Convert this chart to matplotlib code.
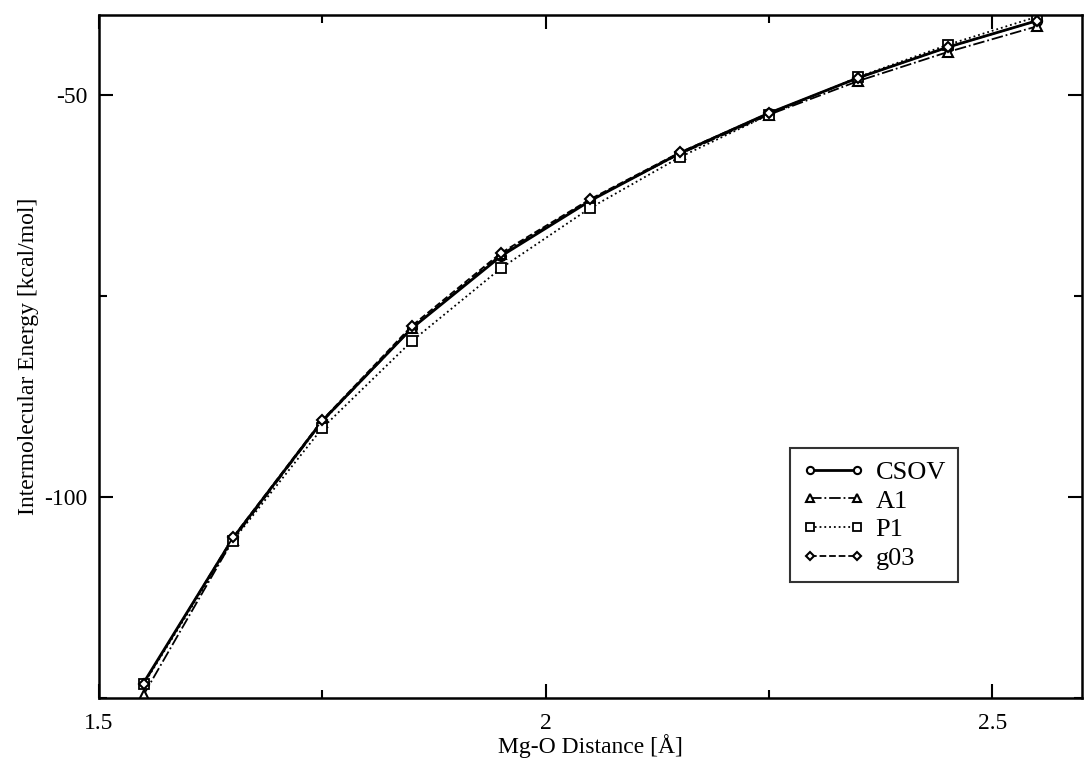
import matplotlib.pyplot as plt
from matplotlib.ticker import MultipleLocator

plt.rcParams['font.family'] = ['Liberation Serif', 'DejaVu Serif']
plt.rcParams['axes.unicode_minus'] = False

# Mg-O distance [A]
dist = [1.55, 1.65, 1.75, 1.85, 1.95, 2.05, 2.15, 2.25, 2.35, 2.45, 2.55]

# intermolecular energy [kcal/mol]
csov = [-123.1, -105.1, -90.5, -79.0, -70.0, -63.1, -57.2, -52.2, -47.8, -44.0, -40.7]
a1   = [-124.6, -105.3, -90.6, -79.0, -69.8, -63.0, -57.3, -52.4, -48.2, -44.6, -41.4]
p1   = [-123.3, -105.4, -91.4, -80.6, -71.5, -64.0, -57.7, -52.4, -47.7, -43.7, -40.2]
g03  = [-123.2, -105.0, -90.4, -78.7, -69.6, -62.9, -57.1, -52.2, -47.8, -44.0, -40.7]

fig = plt.figure(figsize=(10.84, 7.71), dpi=100)
ax = fig.add_axes([0.0913, 0.0947, 0.9067, 0.8858])

ax.plot(dist, csov, 'k-', marker='o', mfc='white', mec='black', ms=6.5, mew=1.5, lw=2, label='CSOV')
ax.plot(dist, a1, 'k-.', marker='^', mfc='white', mec='black', ms=6.5, mew=1.5, lw=1.3, label='A1')
ax.plot(dist, p1, 'k:', marker='s', mfc='white', mec='black', ms=6.5, mew=1.3, lw=1.3, label='P1')
ax.plot(dist, g03, 'k--', marker='D', mfc='white', mec='black', ms=5, mew=1.5, lw=1.3, label='g03')

ax.set_xlim(1.5, 2.6)
ax.set_ylim(-125, -40)
ax.xaxis.set_minor_locator(MultipleLocator(0.25))
ax.yaxis.set_major_locator(MultipleLocator(50))
ax.yaxis.set_minor_locator(MultipleLocator(25))
ax.set_xticks([1.5, 2.0, 2.5])
ax.set_xticklabels(['1.5', '2', '2.5'])

ax.tick_params(which='both', direction='in', top=True, right=True, labelsize=17, width=1.5)
ax.tick_params(which='major', length=10)
ax.tick_params(which='minor', length=6)
ax.tick_params(axis='x', which='major', pad=11)
ax.tick_params(axis='y', which='major', pad=8)
for s in ax.spines.values():
    s.set_linewidth(1.8)

ax.set_xlabel('Mg-O Distance [Å]', fontsize=17, labelpad=0)
ax.set_ylabel('Intermolecular Energy [kcal/mol]', fontsize=17, labelpad=4)

leg = ax.legend(loc='lower left', bbox_to_anchor=(0.703, 0.17), borderaxespad=0, fontsize=19,
                frameon=True, fancybox=False, edgecolor='black', numpoints=2, markerscale=0.8,
                handlelength=2.4, handletextpad=0.4, borderpad=0.45, labelspacing=0.2)
leg.get_frame().set_linewidth(1.5)

fig.savefig('out.png', dpi=100)
